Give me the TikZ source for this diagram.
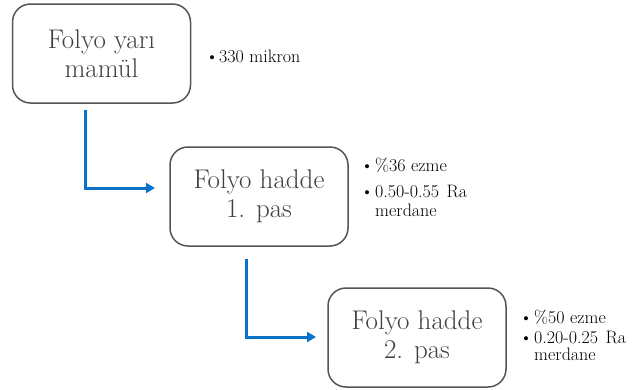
\documentclass[tikz,border=0pt]{standalone}
\usepackage{fontspec}
\usetikzlibrary{arrows.meta}
\definecolor{boxtext}{HTML}{404040}
\definecolor{boxline}{HTML}{555555}
\definecolor{arrblue}{HTML}{0A72C8}
\tikzset{
  stage/.style={draw=boxline, line width=1.5pt, rounded corners=18pt,
    minimum width=178pt, minimum height=99pt, align=center,
    text=boxtext, font=\fontsize{27}{29}\selectfont, inner sep=0pt},
  flow/.style={draw=arrblue, line width=3pt, -{Triangle[length=9pt,width=10pt]}},
  note/.style={anchor=west, inner sep=0pt, font=\fontsize{18}{19}\selectfont, text=black},
  dot/.style={inner sep=0pt, font=\fontsize{18}{19}\selectfont, text=black}
}
\begin{document}
\begin{tikzpicture}[x=1pt,y=-1pt]
\useasboundingbox (0,0) rectangle (641,389);
\node[stage] (b1) at (101.5,53.5) {Folyo yarı\\mamül};
\node[stage] (b2) at (259,196.5) {Folyo hadde\\1. pas};
\node[stage] (b3) at (417,337.5) {Folyo hadde\\2. pas};
% notes
\node[dot] (d1) at (212,59) {\textbullet};
\node[note] (n1) at (219,56) {330 mikron};
\node[dot] (d2a) at (367,168) {\textbullet};
\node[note] (n2a) at (375,165) {\%36 ezme};
\node[dot] (d2b) at (367,194) {\textbullet};
\node[note] (n2b) at (375,191) {0.50-0.55\hspace{2pt} Ra};
\node[note] (n2c) at (375,210) {merdane};
\node[dot] (d3a) at (526,320) {\textbullet};
\node[note] (n3a) at (534,317) {\%50 ezme};
\node[dot] (d3b) at (526,340) {\textbullet};
\node[note] (n3b) at (534,337) {0.20-0.25\hspace{2pt} Ra};
\node[note] (n3c) at (534,354) {merdane};
% connectors
\coordinate (a1s) at (85,110);
\coordinate (a1e) at (155,188);
\coordinate (a2s) at (246,259);
\coordinate (a2e) at (316,337);
\draw[flow] (a1s) |- (a1e);
\draw[flow] (a2s) |- (a2e);
\end{tikzpicture}
\end{document}
